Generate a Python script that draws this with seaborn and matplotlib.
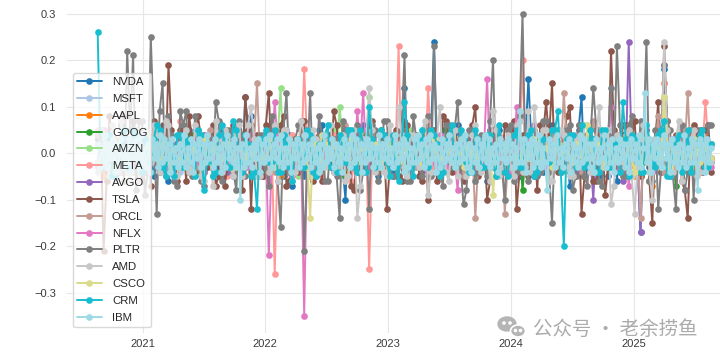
import numpy as np
import pandas as pd
import matplotlib.pyplot as plt
import seaborn as sns
from matplotlib.lines import Line2D
from matplotlib.patches import Ellipse

tickers = ['NVDA', 'MSFT', 'AAPL', 'GOOG', 'AMZN', 'META', 'AVGO', 'TSLA',
           'ORCL', 'NFLX', 'PLTR', 'AMD', 'CSCO', 'CRM', 'IBM']
colors = ['#1f77b4', '#aec7e8', '#ff7f0e', '#2ca02c', '#98df8a', '#ff9896',
          '#9467bd', '#8c564b', '#c49c94', '#e377c2', '#7f7f7f', '#c7c7c7',
          '#dbdb8d', '#17becf', '#9edae5']

# daily returns in %, one reading every ~2.5 weeks, Aug 2020 -> Aug 2025
nvda = [-2, 3, -4, 1, 6,
        -3, 2, -5, 3, 1, -2, 4, -6, 2, -1,
        3, -4, 5, -2, 1, 4, -3, 2, -5, 3,
        12, 8, -4, 2, -6, 3, -2, 5, -7, 1,
        -5, 4, -3, 6, -2, 1, 3, -10, 2, -4,
        6, -3, 2, -1, 4, -5, 3, 14, -2, 1,
        -3, 5, 24, -4, 2, -1, 6, -3, 4, -2,
        3, -6, 2, 5, -4, 1, -2, 3, 16, -5,
        4, -3, 6, -2, 1, -7, 3, 12, -4, 2,
        -5, 3, 1, -6, 4, -2, 2, -17, 5, -3,
        2, 18, -4, 3, -2, 1, 4, -3, 2, -1]
msft = [-3, 1, 2, -2, 3,
        -1, 2, -3, 1, 2, -2, 3, -1, 1, -4,
        2, -1, 3, -2, 1, 4, -3, 2, -1, 1,
        -2, 3, -1, 2, -4, 1, 3, -2, 2, -1,
        3, -2, 1, -3, 2, 4, -1, -2, 3, -1,
        2, -3, 1, 2, -2, 3, -1, 5, -2, 1,
        -1, 2, 4, -3, 1, -2, 3, -1, 2, -2,
        1, -3, 2, 3, -1, 2, -2, 1, -3, 2,
        -1, 3, -2, 1, 2, -4, 1, 3, -2, 1,
        2, -1, -3, 1, 2, -2, 3, -2, 1, -1,
        -4, 10, -2, 1, 3, -1, 2, -2, 1, 2]
aapl = [2, -5, 1, 3, -2,
        2, -4, 1, 3, -2, 4, -1, 2, -3, 1,
        -2, 3, 1, -4, 2, -1, 3, -2, 1, 4,
        -3, 2, -1, 3, -2, 4, -5, 1, 2, -3,
        4, -2, 1, -3, 3, -1, 2, -4, 1, 2,
        -2, 3, -1, 2, -3, 1, 4, -2, 2, -1,
        1, -3, 2, 1, -2, 3, -1, 2, -4, 1,
        3, -2, 1, -1, 2, -3, 4, 1, -2, 2,
        -1, 2, -3, 1, 3, -2, 1, -1, 2, -3,
        2, -1, 3, -2, 1, -3, -5, 2, -2, -7,
        4, 15, -4, 2, -1, 3, -2, 1, 4, -1]
goog = [4, -1, 2, -3, 1,
        3, -1, 2, -4, 1, 3, -2, 1, 2, -3,
        1, 4, -2, 3, -1, 2, -3, 1, 2, -2,
        3, -2, 1, -4, 2, 5, -3, 1, -2, 2,
        -3, 1, 2, -1, 4, -2, 1, -5, 3, -1,
        2, -3, 1, 4, -2, 1, -1, 3, -2, 2,
        -1, 3, -2, 1, 5, -3, 2, -1, 1, -4,
        2, 1, -3, 2, -1, 3, -2, -8, 4, -1,
        1, -2, 3, -1, 2, -4, 1, 3, -2, 1,
        -3, 2, 1, -2, 3, -1, 2, -5, 1, 2,
        -2, 9, 1, -7, 3, -2, 1, 4, -1, 2]
amzn = [-2, 5, -3, 1, -4,
        2, -1, 3, -2, 1, 4, -3, 2, -1, 3,
        -2, 1, -4, 3, 2, -1, 3, -2, 1, -3,
        2, -4, 1, 3, -2, 1, 14, -3, 2, -5,
        3, -2, 1, -4, 2, 5, 10, -3, 2, -1,
        4, 12, -3, 2, -1, 3, -2, 1, 5, -2,
        1, -3, 2, -1, 4, -2, 3, -1, 2, -3,
        1, 3, -2, 2, -4, 1, 3, -2, 1, -1,
        2, -3, 4, -1, 2, -2, 3, -5, 1, 2,
        -2, 3, -1, 2, -4, 1, 2, -3, 1, -2,
        3, 12, -4, 2, -2, 1, -3, 2, -1, 2]
meta = [5, -2, 3, -4, 2,
        -3, 2, 4, -1, 3, -2, 1, -4, 2, 7,
        -2, 3, -1, 4, -3, 2, 1, -5, 3, -2,
        2, -4, 3, -2, 5, -26, 3, -2, 4, -3,
        18, -3, 2, -5, 1, 4, -2, 3, -6, 2,
        -3, -25, 4, -2, 3, -1, 23, -3, 2, 4,
        -2, 14, -3, 2, -1, 5, -3, 1, 2, -4,
        3, -2, 1, 4, -3, 2, -1, 20, -2, 3,
        -4, 2, 1, -3, 3, -2, 4, -1, 2, -3,
        1, 3, -2, 2, -4, 1, 3, -5, 2, -1,
        -3, 15, -2, 3, 1, -2, 4, -1, 11, -2]
avgo = [3, -1, 2, -4, 1,
        3, -2, 4, -1, 2, -3, 1, 5, -2, 3,
        -1, 2, -3, 4, -2, 1, 3, -4, 2, -1,
        3, -2, 1, -5, 2, 4, -3, 1, 2, -2,
        4, -3, 2, -1, 3, -4, 1, 2, -2, 5,
        -3, 2, 1, -2, 4, -1, 3, -3, 2, 1,
        -4, 3, -1, 2, -2, 5, -3, 1, 3, -2,
        2, -1, 4, -3, 1, 2, -5, 3, -2, 6,
        -3, 2, -1, 4, -2, 3, -4, 1, 2, -10,
        5, -3, 2, 4, -6, 24, 3, -17, 2, -4,
        3, 19, -5, 2, -3, 4, -2, 1, 3, -2]
tsla = [3, -21, 8, -5, 6,
        -3, 7, -5, 4, -7, 3, 6, 19, -4, 5,
        -6, 3, 8, -4, 2, -7, 5, -3, 6, -2,
        12, -12, 4, -5, 13, -3, 6, -7, 2, -4,
        7, -5, 3, -6, 4, 9, -3, 5, -7, 2,
        -4, 6, -3, 5, -12, 3, -5, 7, -2, 4,
        -6, -10, 5, -3, 7, -4, 2, -6, 4, 10,
        -3, -10, 5, -4, 6, -2, -12, 4, -5, 3,
        6, 11, 15, -4, 3, 10, -5, -13, 4, -6,
        5, -9, 22, -3, 6, -4, 7, -5, 3, -15,
        11, 23, -5, 4, -6, -14, 6, -3, 5, -4]
orcl = [4, -3, 2, -1, 3,
        -2, 1, 3, -4, 2, -1, 2, -3, 1, 4,
        -1, 2, -3, 1, 5, -2, 1, 3, -2, 1,
        -3, 2, 15, -2, 1, -4, 3, -1, 2, -2,
        4, -1, 2, -3, 1, 3, -2, 6, -1, 2,
        -2, 3, -1, 2, -4, 1, 3, -2, 1, -3,
        2, -1, 4, -2, 3, -1, 2, -5, 1, -14,
        3, -2, 1, 2, -13, 4, -1, 3, -2, 1,
        -3, 2, 5, -1, 13, -2, 3, -4, 2, 7,
        -2, 4, -1, 3, -5, 2, 1, -14, 3, -2,
        8, -4, 2, -3, 5, 13, -2, 3, -1, 2]
nflx = [-3, 5, -2, 1, -4,
        2, -3, 1, 4, -2, 3, -1, 2, -5, 3,
        -2, 1, 3, -4, 2, -1, 4, -3, 1, 2,
        -3, 4, -1, 2, -22, 11, -3, 2, -5, 3,
        -35, 4, -2, 3, -1, 2, -4, 5, -2, 9,
        13, -3, 2, -1, 4, -2, 1, 3, -3, 2,
        -1, 3, -2, 4, -3, 1, -8, 2, -1, 3,
        -2, 16, -3, 1, 2, -4, 10, -1, 3, -2,
        1, -3, 2, 4, -2, 1, -3, 2, -1, 3,
        -2, 1, 10, -3, 2, -7, 3, -2, 1, -4,
        2, 8, -3, 1, 4, -2, 3, -1, 2, -3]
pltr = [None, None, None, None, 6,
        22, 21, 7, -9, 25, -13, 15, 8, -6, 9,
        9, -5, 4, -7, 3, 11, -6, 5, -4, 7,
        -5, 6, -3, 4, -7, 5, -16, 13, -4, 6,
        -21, 13, -5, 4, -6, 3, -14, 5, -3, 6,
        -4, -12, 5, -3, 7, -5, 4, 21, -6, 3,
        -5, 8, 23, -4, 6, -3, 11, -11, 5, -6,
        4, -5, 20, -3, -10, 6, -4, 30, -6, 5,
        -4, 7, -15, 5, -3, 6, -5, 4, -7, 14,
        -6, 4, 14, 23, -5, 6, -4, 7, 24, -6,
        -12, 19, 5, -12, 6, -4, -10, 5, -3, 6]
amd = [-4, 3, -5, 2, 7,
       -4, 3, -6, 5, -2, 4, -3, 6, -5, 2,
       5, -3, 4, -6, 2, 7, -4, 3, -5, 6,
       -2, 10, -5, 3, -4, 6, -3, 5, -6, 2,
       4, -5, 3, -2, 6, -4, 2, -6, 5, -14,
       3, 14, -4, 2, -5, 3, 10, -3, 4, -2,
       5, -9, 3, 10, -4, 2, -5, 4, -3, 6,
       -4, 3, 9, -5, 2, -3, 6, -4, 9, 10,
       -3, 5, -6, 2, 4, -5, 3, -2, 6, -4,
       10, -3, -11, 4, -2, 5, -13, 3, 6, -10,
       4, 24, -5, 3, -6, 2, 5, -4, 3, -2]
csco = [-2, 1, 2, -3, 1,
        -1, 2, -2, 1, 3, -1, 2, -2, 1, -3,
        2, -1, 1, 3, -2, 1, -1, 2, -3, 1,
        -2, 1, 2, -1, 3, -3, 1, 2, -1, 2,
        -3, -14, 2, 4, -1, 2, -2, 1, 3, -2,
        1, -1, 2, -3, 1, 2, -2, 3, -1, 1,
        -2, 1, 3, -1, 2, -2, 1, -3, 2, -1,
        1, 2, -9, 3, -1, 2, -2, 1, -1, 3,
        -2, 1, -3, 2, 1, -1, 2, -2, 6, -1,
        2, -3, 1, -1, 2, 1, -4, -2, 3, -2,
        1, 12, -3, 2, -1, 1, 3, -2, 1, -1]
crm = [26, -2, 4, -5, 2,
       -3, 5, -2, 3, -4, 6, -3, 2, -5, 4,
       3, -2, 5, -8, 2, -4, 6, -3, 7, -2,
       4, -5, -12, 3, -2, 5, -4, 2, -6, 3,
       -3, 4, -5, 2, 6, -3, 4, -2, 5, -4,
       2, 10, -3, 5, -2, 4, -6, 11, -3, 2,
       5, -3, 4, -5, 2, 6, -2, 3, -4, 5,
       -3, 4, -2, 6, -4, 2, 5, -3, 4, -5,
       3, -2, 5, 9, -20, 4, -3, 6, -2, 3,
       -4, 5, -3, 2, 11, -5, 3, -4, 6, -2,
       4, 7, -5, 3, -4, 5, -2, 4, -3, 2]

# days read between the readings above (104 per stock)
nvda_mid = [3, -4, 2, -3, 5, -2, 3, -2, 4, -5, 2, 3, -3,
            -4, 2, 5, -2, -3, 4, 2, -5, 3, -2, 2, -4, 5,
            -2, 3, -4, 2, 3, -5, 4, -2, 3, -3, 2, 5, -2,
            4, -2, -3, 5, 2, -4, 3, -2, -5, 2, 4, -3, 2,
            -5, 3, 2, -2, 4, -3, 5, -2, 2, -4, 3, -2, -3,
            2, 5, -3, 2, -2, 4, -5, 3, 2, -2, -4, 3, 2,
            -3, 2, -2, 5, -4, 3, -2, 2, -5, 4, 2, -3, 3,
            -2, 4, -3, 2, 5, -2, -4, 3, -2, 2, -3, 5, -2]
msft_mid = [1, -1, 2, -1, 1, -2, 1, 1, -1, 2, -2, 1, -1,
            -1, 2, -1, 1, -2, 1, 2, -1, -1, 1, -2, 2, -1,
            1, -2, 1, -1, 2, -1, -1, 2, -2, 1, 1, -1, 2,
            -2, 1, -1, 2, 1, -2, 1, -1, 2, -1, -2, 1, 1,
            -1, 2, -1, -2, 1, 1, -1, 2, -1, 1, -2, 2, -1,
            2, -1, 1, -2, 1, -1, 2, -2, 1, 1, -1, -1, 2,
            -1, 1, -2, 1, 2, -1, -1, 1, -2, 2, -1, 1, -1,
            1, -1, 2, -2, 1, -1, 1, 2, -1, -2, 1, -1, 2]
aapl_mid = [-1, 2, -1, 1, -2, 1, 2, -1, -2, 1, -1, 2, 1,
            -2, 1, -1, 2, -1, -1, 2, 1, -2, 1, -1, 2, -2,
            1, 1, -2, 2, -1, 1, -1, -2, 2, -1, 1, -2, 1,
            2, -1, 1, -2, -1, 2, -1, 1, 1, -2, 1, -1, 2,
            -1, -2, 2, 1, -1, 1, -2, 2, -1, -1, 1, 2, -2,
            1, -1, 2, -1, 1, -2, 1, -1, 2, -2, 1, 1, -1,
            2, -2, 1, -1, -1, 2, -1, 2, 1, -2, -1, 1, 2,
            -1, 1, -2, 2, -1, 1, -1, -2, 1, 2, -1, 1, -2]
goog_mid = [2, -1, 1, -2, 1, -1, -1, 2, -2, 1, 2, -1, 1,
            -1, -2, 2, -1, 1, 1, -2, 2, -1, -1, 2, -2, 1,
            -1, 1, 2, -1, -2, 1, -1, 2, 1, -2, 1, -1, -1,
            2, -2, 1, 1, -1, 2, -2, -1, 1, 2, -1, 1, -2,
            1, -1, -2, 2, 1, -1, 1, -1, 2, -2, -1, 2, 1,
            -2, 1, -1, 1, 2, -2, 1, -1, -1, 2, 1, -2, -1,
            1, 2, -1, -2, 1, -1, 2, 1, -1, -2, 2, -1, 1,
            -2, 1, 1, -1, 2, -1, -2, 1, 2, -1, -1, 2, -1]
amzn_mid = [-2, 1, 2, -1, -3, 2, 1, -1, 2, -2, 1, -1, 3,
            -1, 2, -2, 1, -1, 2, -3, 1, 1, -2, 2, -1, 1,
            2, -1, -2, 1, 3, -2, 1, -1, -1, 2, -2, 1, -1,
            1, -2, 3, -1, 1, -2, 2, -1, -2, 1, 2, -1, 1,
            -1, 2, -1, -2, 1, 2, -3, 1, -1, 2, 1, -2, 2,
            1, -1, 2, -2, -1, 1, 2, -1, 3, -2, 1, -1, -1,
            2, -2, 1, 1, -1, -2, 2, -1, 1, -3, 2, 1, -1,
            -1, 1, -2, 2, 1, -1, -2, 3, -1, 1, -2, 2, 1]
meta_mid = [1, -3, 2, -1, 2, -2, 1, 3, -1, -2, 2, -1, 1,
            -2, 2, 1, -3, 1, -1, 2, -2, 3, -1, 1, -2, 2,
            -1, 1, -2, 2, -1, 3, -2, 1, -1, 2, -3, 1, 1,
            -2, 1, -1, 2, -2, 1, 3, -1, -2, 2, -1, 1, -3,
            2, -1, 1, -2, 2, -1, -1, 3, -2, 1, -1, 2, -2,
            1, 2, -1, -3, 2, -1, 1, -2, 2, 1, -1, -2, 3,
            -1, 2, -2, 1, -1, 1, 2, -3, 1, -1, 2, -2, 1,
            2, -1, -2, 1, 3, -2, 1, -1, 2, -1, -2, 1, 2]
avgo_mid = [-1, 2, -2, 1, 3, -1, -2, 2, -1, 1, -3, 2, -1,
            2, -1, 1, -2, 2, -3, 1, -1, 2, -2, 1, 3, -1,
            -2, 1, -1, 2, -2, 1, 1, -3, 2, -1, 2, -1, -2,
            1, 3, -2, 1, -1, 2, -1, -2, 2, 1, -3, 1, -1,
            2, -2, -1, 1, 3, -2, 1, -1, -1, 2, -2, 1, 2,
            -1, 1, -3, 2, -1, 2, -2, 1, -1, 3, -1, 2, -2,
            1, -1, 2, 1, -2, -1, 3, -2, 1, 2, -1, -2, 1,
            -2, 2, -1, 1, -1, 2, -3, 1, -2, 1, 2, -1, 1]
tsla_mid = [5, -6, 3, -4, 8, -3, 4, -6, 3, 7, -4, -3, 5,
            -6, 3, 8, -4, 3, -3, 6, -5, -7, 4, 3, -8, 5,
            3, -5, 6, -3, -4, 8, -6, 3, 5, -3, -6, 4, 3,
            -3, 6, -4, 3, -8, 5, -3, 7, -4, 3, -3, 5, -6,
            6, -3, -5, 4, 3, -6, 8, -3, 5, -4, -3, 6, -5,
            3, -6, 4, -3, 5, 7, -4, -3, 3, -8, 4, 3, -3,
            -4, 8, -3, 6, -5, 3, -6, 4, -3, 5, -4, 6, 3,
            -3, 5, -6, 3, -4, 7, -3, 4, -8, 3, 5, -4, 6]
orcl_mid = [1, -1, 2, -2, 1, 1, -1, 2, -1, -2, 1, 2, -1,
            -1, 1, -2, 2, -1, 1, -1, 2, 1, -2, 1, -1, 2,
            2, -1, 1, -1, -2, 2, 1, -1, 2, -1, 1, -2, -1,
            1, 2, -1, -2, 1, -1, 2, -2, 1, 1, -1, 2, -1,
            -2, 1, 1, -1, 2, -2, -1, 1, 2, -1, -1, 1, -2,
            1, -1, 2, 1, -2, 1, -1, -1, 2, -1, 2, -2, 1,
            -1, 2, -2, 1, -1, 1, 2, -1, -2, 1, -1, 2, 1,
            2, -1, -1, 2, -2, 1, 1, -2, 1, -1, 2, -1, -1]
nflx_mid = [-2, 1, 3, -1, 2, -2, 1, -1, -3, 2, 1, -2, 2,
            1, -1, 2, -2, -1, 3, -1, 1, -2, 2, -1, 1, -3,
            2, -2, 1, -1, 2, 1, -3, 2, -1, 1, -2, 2, -1,
            -1, 2, -2, 3, -1, 1, -2, 1, 2, -1, -2, 3, -1,
            1, -1, 2, -2, 1, -3, 2, 1, -1, 2, -2, -1, 1,
            2, -2, 1, -1, 3, -1, -2, 2, -1, 1, -2, 1, 2,
            -1, 1, -3, 2, -1, 2, -1, -2, 1, 3, -2, 1, -1,
            2, -1, 1, -2, 2, -1, 3, -2, 1, -1, -2, 2, 1]
pltr_mid = [None, None, None, None, -6, 5, -8, 7, -4, 6, 9, -5, 4,
            -7, 6, -4, 8, -6, 3, -5, 7, -3, 5, -8, 4, 6,
            -5, 4, -3, 8, -6, 5, -4, 3, 7, -3, -5, 8, -6,
            3, -5, 7, -3, 5, -8, 4, 6, -6, 7, -3, -5, 5,
            -6, 8, -3, 5, -5, 3, -7, 6, 5, -3, -8, 5, -4,
            3, 7, -5, -3, 5, -6, 8, -3, 4, -5, 7, -4, 3,
            -3, 5, -8, 6, -5, 3, 5, -7, 4, -3, 6, -5, 8,
            -4, 3, -6, 5, -3, 7, -5, 4, -8, 5, 3, -4, 6]
amd_mid = [5, -3, 6, -4, 3, -6, 5, -3, 4, 6, -4, 7, -3,
           -5, 3, -4, 6, -5, 4, -7, 3, 5, -3, 4, -5, 6,
           3, -5, 4, -3, -6, 5, 3, -4, 7, -3, 5, -4, -3,
           6, -3, 4, -5, 5, -7, 3, 5, -3, -4, 6, -3, 4,
           -5, 4, -3, 7, -4, 3, -3, -6, 5, 3, -5, 4, -3,
           3, -6, 5, -3, 4, -5, 7, -3, -4, 3, 5, -6, 3,
           5, -3, -5, 3, 6, -4, 3, -3, 5, -7, 3, 4, -5,
           -3, 6, -4, 3, -3, 5, -4, 7, -3, 3, -5, 4, -3]
csco_mid = [1, -1, 1, -2, 1, -1, 1, 1, -1, 1, -1, 2, -1,
            -1, 1, -1, 1, 2, -1, 1, -1, -1, 1, -2, 1, 1,
            -1, 2, -1, 1, -1, 1, -2, 1, 1, -1, 1, -1, 2,
            -1, 1, 1, -1, -2, 1, -1, 1, 2, -1, 1, -1, -1,
            1, -1, 2, -1, 1, -1, -1, 1, -2, 1, 1, -1, 1,
            -1, 1, -1, 1, 2, -1, -1, 1, -1, 1, -2, 1, 1,
            -1, 1, -2, 1, -1, 1, 1, -1, 2, -1, 1, -1, -1,
            1, -1, 1, 2, -1, 1, -1, -1, 1, -2, 1, -1, 1]
crm_mid = [-3, 4, -5, 2, 5, -3, 4, -4, -2, 3, 5, -5, 2,
           4, -3, 2, -5, 4, -2, -5, 4, 3, -3, 5, -4, 2,
           -4, 3, 5, -2, -4, 4, -3, 2, -3, 5, -4, 2, 4,
           -3, -4, 2, 5, -3, 5, -4, 3, -2, 4, -5, -3, 2,
           4, -5, 3, -2, 5, 2, -4, 4, -3, 5, -2, -4, 3,
           -3, 4, -5, 2, -5, 4, -3, 2, 5, -4, 3, -2, 5,
           -4, 3, 4, -2, -3, 5, -4, 5, -3, 2, -4, 3, 4,
           2, -4, 3, -3, 5, -5, 2, 4, -3, -4, 2, 5, -3]

# IBM is drawn last and forms the dense band, read about weekly
ibm = [2, -3, 1, -2, 4, -3, 2, -1, 3, -4, 2, -2, 3, -3, 1,
       -2, 3, -4, 2, -1, 3, -3, 4, -2, 1, -3, 2, -4, 3, -1,
       2, -3, 4, -2, 3, -1, 2, -4, 3, -2, 1, -3, 2, -2, 4,
       -3, 1, -2, 3, -4, 2, -1, 3, -3, 2, -2, 4, -1, 2, -3,
       3, -2, 1, -4, 2, -3, 4, -1, 2, -2, 3, -3, 1, -10, 2,
       -3, 4, -2, 1, -3, 2, -1, 3, -4, 2, -2, 3, -1, 4, -3,
       2, -1, 3, -2, 4, -3, 1, -2, 3, -4, 2, -1, 3, -3, 2,
       -2, 4, -1, 2, -3, 3, -2, 1, -4, 2, -3, 4, -2, 1, -1,
       3, -3, 2, -2, 1, -4, 3, -1, 2, -3, 4, -2, 3, -1, 2,
       -4, 2, -2, 3, -1, 2, -3, 1, -2, 4, -3, 2, -1, 3, -2,
       1, -3, 4, -2, 2, -1, 3, -4, 2, -3, 1, -2, 3, -2, 4,
       -1, 2, -3, 3, -2, 4, -1, 2, -4, 1, -3, 3, -2, 2, -1,
       4, -2, 1, -3, 2, -2, 3, -1, 4, -3, 2, -4, 1, -2, 3,
       -3, 2, -1, 4, -2, 3, -3, 1, -2, 2, -4, 3, -1, 2, -2,
       3, -1, 2, -3, 1, -2, 9, -2, 3, -4, 2, -1, 3, -3, 2,
       -2, 4, -3, 1, -2, -8, 3, -1, 2, -3, 4, -2, 1, -3, 2,
       -1, 3, -4, 2, -2, 1, -3, 4, -2, 3, -1, 2, -3, 2, -4,
       3, -2, 1, -1, 4, -3, 2, -2, 3, -4, 1, -2, 3, -1, 2,
       -3, 2, -4, 3, -1, 2, -2, 4, -3, 1, 13, -2, 3, -4, 2,
       -1, 3, -2, 2, -3, 4, -1, 2, -4, 3, -2, 1, -3, 2, -2,
       4, -3, 1, -2, 3, -2, 2, -8, 3, -1, 2, -4, 3, -2, 1]

start, end = '2020-08-20', '2025-08-20'

main = [nvda, msft, aapl, goog, amzn, meta, avgo, tsla, orcl, nflx, pltr, amd, csco, crm]
mids = [nvda_mid, msft_mid, aapl_mid, goog_mid, amzn_mid, meta_mid, avgo_mid, tsla_mid,
        orcl_mid, nflx_mid, pltr_mid, amd_mid, csco_mid, crm_mid]


def merge(vals, between):
    # put the in-between readings back in date order
    if len(between) != len(vals) - 1:
        raise ValueError(f'{len(vals)} readings but {len(between)} in-between values')
    out = []
    for a, b in zip(vals[:-1], between):
        out += [a, b]
    return out + [vals[-1]]


series = [merge(v, m) for v, m in zip(main, mids)] + [ibm]
frames = []
for name, vals in zip(tickers, series):
    ret = [np.nan if v is None else v / 100 for v in vals]
    dates = pd.date_range(start, end, periods=len(vals))
    frames.append(pd.DataFrame({'date': dates, 'ret': ret, 'ticker': name}))
df = pd.concat(frames).dropna()

sns.set_style('whitegrid', {'grid.color': '#e6e6e6', 'axes.edgecolor': 'white'})
plt.rcParams['font.family'] = ['Liberation Sans', 'DejaVu Sans']

fig = plt.figure(figsize=(7.2, 3.58), dpi=100)
ax = fig.add_axes([67 / 720, 25.5 / 358, 675 / 720, 336.5 / 358])

sns.lineplot(data=df, x='date', y='ret', hue='ticker', hue_order=tickers,
             palette=colors, marker='o', markersize=4.8, markeredgewidth=0,
             linewidth=1.4, estimator=None, legend=False, ax=ax)

ax.set_ylim(-0.386, 0.338)
ax.set_xlabel('')
ax.set_ylabel('')
for s in ax.spines.values():
    s.set_visible(False)
ax.tick_params(axis='y', labelsize=8, labelcolor='#3a3a3a', pad=8, length=0)
ax.tick_params(axis='x', labelsize=8, labelcolor='#3a3a3a', pad=5, length=0)

handles = [Line2D([], [], color=c, marker='o', markersize=4.8, mew=0, lw=1.4) for c in colors]
leg = ax.legend(handles, tickers, loc='lower left', fontsize=8.2, labelspacing=0.6,
                handlelength=2.2, handletextpad=0.9, borderpad=0.35, frameon=True)
leg.get_frame().set_edgecolor('#d0d0d0')

# watermark
icon = fig.add_axes([496 / 720, 18 / 358, 32 / 720, 26 / 358])
icon.set_xlim(0, 32)
icon.set_ylim(0, 26)
icon.axis('off')
icon.add_patch(Ellipse((11, 16), 18, 14, color='#b5b5b5'))
icon.add_patch(Ellipse((22, 9), 15, 12, facecolor='#b5b5b5', edgecolor='white', lw=1.2))
for ex, ey in [(8, 17), (14, 17), (19.5, 9.5), (24.5, 9.5)]:
    icon.add_patch(Ellipse((ex, ey), 2.2, 2.2, color='white'))
fig.text(533 / 720, 1 - 329 / 358, '公众号 · 老余捞鱼', fontsize=14, color='#ababab',
         va='center', ha='left', family=['Noto Sans CJK SC', 'DejaVu Sans'])

fig.savefig('out.png', dpi=100)
